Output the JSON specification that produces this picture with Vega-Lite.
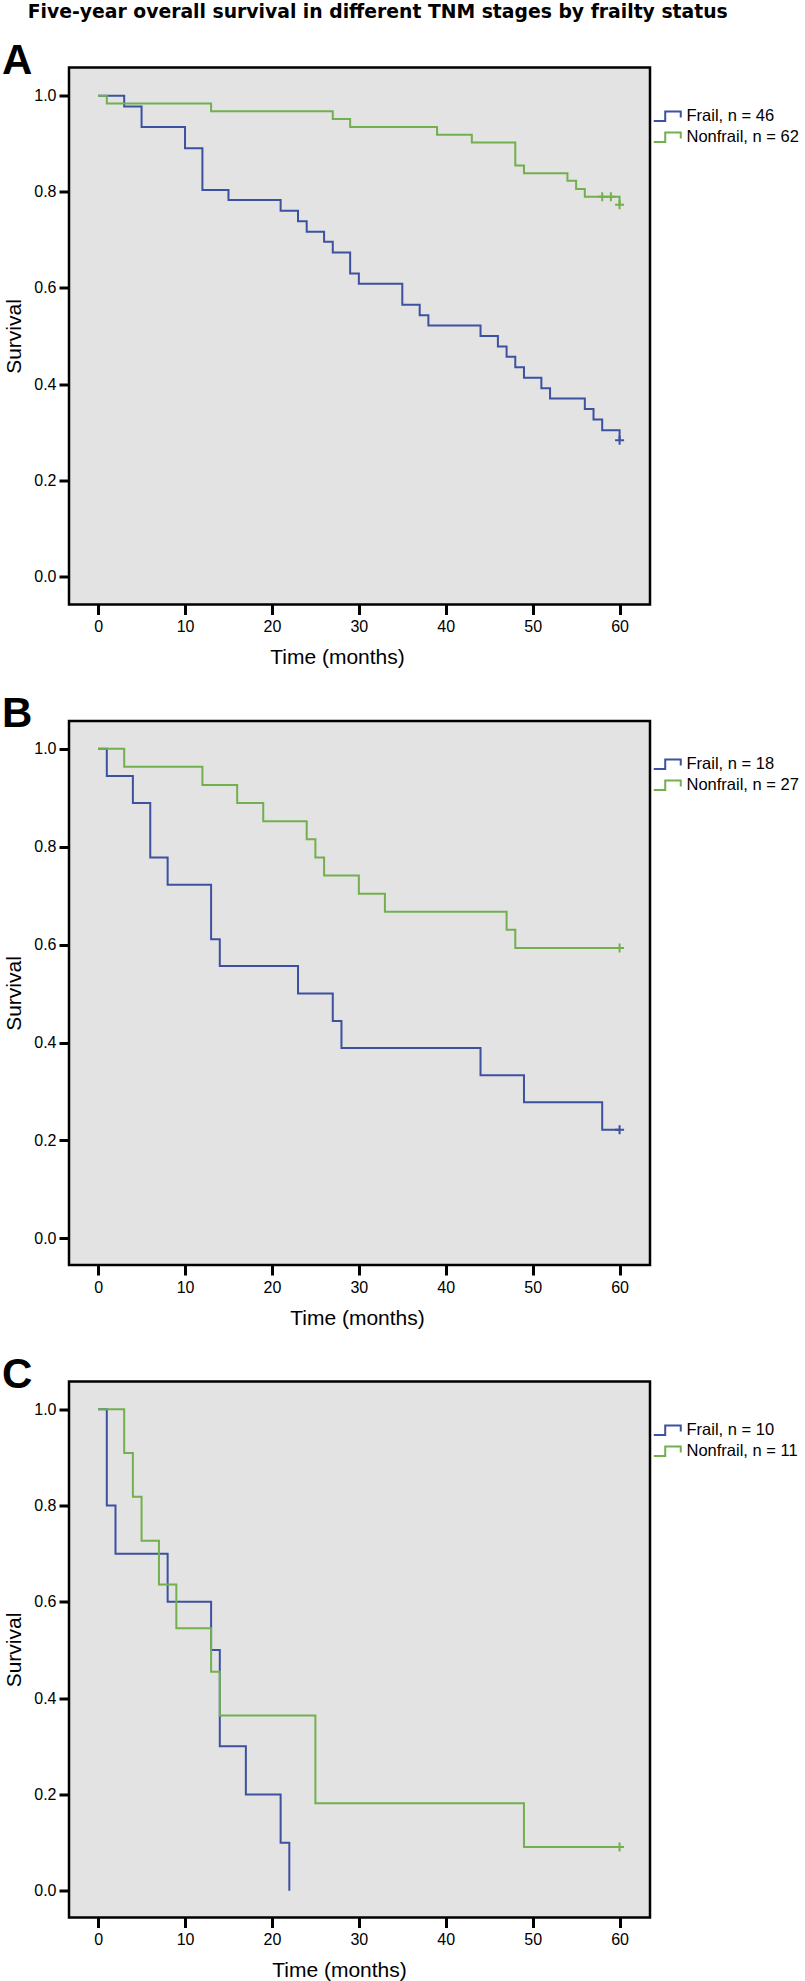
{
  "$schema": "https://vega.github.io/schema/vega-lite/v6.json",
  "autosize": {"type": "pad"},
  "padding": {"left": 0, "top": 2.5, "right": 0, "bottom": 0},
  "background": "white",
  "title": {
    "text": "Five-year overall survival in different TNM stages by frailty status",
    "anchor": "start",
    "frame": "bounds",
    "fontSize": 18.8,
    "fontWeight": "bold",
    "font": "DejaVu Sans",
    "color": "#000",
    "baseline": "alphabetic",
    "dx": 27,
    "dy": 18.5,
    "offset": 20
  },
  "datasets": {
    "km": [
      {"panel": "A", "group": "Frail, n = 46", "t": 0, "s": 1.0},
      {"panel": "A", "group": "Frail, n = 46", "t": 3, "s": 0.978},
      {"panel": "A", "group": "Frail, n = 46", "t": 5, "s": 0.935},
      {"panel": "A", "group": "Frail, n = 46", "t": 10, "s": 0.891},
      {"panel": "A", "group": "Frail, n = 46", "t": 12, "s": 0.804},
      {"panel": "A", "group": "Frail, n = 46", "t": 15, "s": 0.783},
      {"panel": "A", "group": "Frail, n = 46", "t": 21, "s": 0.761},
      {"panel": "A", "group": "Frail, n = 46", "t": 23, "s": 0.739},
      {"panel": "A", "group": "Frail, n = 46", "t": 24, "s": 0.717},
      {"panel": "A", "group": "Frail, n = 46", "t": 26, "s": 0.696},
      {"panel": "A", "group": "Frail, n = 46", "t": 27, "s": 0.674},
      {"panel": "A", "group": "Frail, n = 46", "t": 29, "s": 0.630},
      {"panel": "A", "group": "Frail, n = 46", "t": 30, "s": 0.609},
      {"panel": "A", "group": "Frail, n = 46", "t": 35, "s": 0.565},
      {"panel": "A", "group": "Frail, n = 46", "t": 37, "s": 0.543},
      {"panel": "A", "group": "Frail, n = 46", "t": 38, "s": 0.522},
      {"panel": "A", "group": "Frail, n = 46", "t": 44, "s": 0.500},
      {"panel": "A", "group": "Frail, n = 46", "t": 46, "s": 0.478},
      {"panel": "A", "group": "Frail, n = 46", "t": 47, "s": 0.457},
      {"panel": "A", "group": "Frail, n = 46", "t": 48, "s": 0.435},
      {"panel": "A", "group": "Frail, n = 46", "t": 49, "s": 0.413},
      {"panel": "A", "group": "Frail, n = 46", "t": 51, "s": 0.391},
      {"panel": "A", "group": "Frail, n = 46", "t": 52, "s": 0.370},
      {"panel": "A", "group": "Frail, n = 46", "t": 56, "s": 0.348},
      {"panel": "A", "group": "Frail, n = 46", "t": 57, "s": 0.326},
      {"panel": "A", "group": "Frail, n = 46", "t": 58, "s": 0.304},
      {"panel": "A", "group": "Frail, n = 46", "t": 60, "s": 0.283},
      {"panel": "A", "group": "Nonfrail, n = 62", "t": 0, "s": 1.0},
      {"panel": "A", "group": "Nonfrail, n = 62", "t": 1, "s": 0.984},
      {"panel": "A", "group": "Nonfrail, n = 62", "t": 13, "s": 0.968},
      {"panel": "A", "group": "Nonfrail, n = 62", "t": 27, "s": 0.952},
      {"panel": "A", "group": "Nonfrail, n = 62", "t": 29, "s": 0.935},
      {"panel": "A", "group": "Nonfrail, n = 62", "t": 39, "s": 0.919},
      {"panel": "A", "group": "Nonfrail, n = 62", "t": 43, "s": 0.903},
      {"panel": "A", "group": "Nonfrail, n = 62", "t": 48, "s": 0.855},
      {"panel": "A", "group": "Nonfrail, n = 62", "t": 49, "s": 0.839},
      {"panel": "A", "group": "Nonfrail, n = 62", "t": 54, "s": 0.823},
      {"panel": "A", "group": "Nonfrail, n = 62", "t": 55, "s": 0.806},
      {"panel": "A", "group": "Nonfrail, n = 62", "t": 56, "s": 0.790},
      {"panel": "A", "group": "Nonfrail, n = 62", "t": 60, "s": 0.773},
      {"panel": "B", "group": "Frail, n = 18", "t": 0, "s": 1.0},
      {"panel": "B", "group": "Frail, n = 18", "t": 1, "s": 0.944},
      {"panel": "B", "group": "Frail, n = 18", "t": 4, "s": 0.889},
      {"panel": "B", "group": "Frail, n = 18", "t": 6, "s": 0.778},
      {"panel": "B", "group": "Frail, n = 18", "t": 8, "s": 0.722},
      {"panel": "B", "group": "Frail, n = 18", "t": 13, "s": 0.611},
      {"panel": "B", "group": "Frail, n = 18", "t": 14, "s": 0.556},
      {"panel": "B", "group": "Frail, n = 18", "t": 23, "s": 0.500},
      {"panel": "B", "group": "Frail, n = 18", "t": 27, "s": 0.444},
      {"panel": "B", "group": "Frail, n = 18", "t": 28, "s": 0.389},
      {"panel": "B", "group": "Frail, n = 18", "t": 44, "s": 0.333},
      {"panel": "B", "group": "Frail, n = 18", "t": 49, "s": 0.278},
      {"panel": "B", "group": "Frail, n = 18", "t": 58, "s": 0.222},
      {"panel": "B", "group": "Frail, n = 18", "t": 60, "s": 0.222},
      {"panel": "B", "group": "Nonfrail, n = 27", "t": 0, "s": 1.0},
      {"panel": "B", "group": "Nonfrail, n = 27", "t": 3, "s": 0.963},
      {"panel": "B", "group": "Nonfrail, n = 27", "t": 12, "s": 0.926},
      {"panel": "B", "group": "Nonfrail, n = 27", "t": 16, "s": 0.889},
      {"panel": "B", "group": "Nonfrail, n = 27", "t": 19, "s": 0.852},
      {"panel": "B", "group": "Nonfrail, n = 27", "t": 24, "s": 0.815},
      {"panel": "B", "group": "Nonfrail, n = 27", "t": 25, "s": 0.778},
      {"panel": "B", "group": "Nonfrail, n = 27", "t": 26, "s": 0.741},
      {"panel": "B", "group": "Nonfrail, n = 27", "t": 30, "s": 0.704},
      {"panel": "B", "group": "Nonfrail, n = 27", "t": 33, "s": 0.667},
      {"panel": "B", "group": "Nonfrail, n = 27", "t": 47, "s": 0.630},
      {"panel": "B", "group": "Nonfrail, n = 27", "t": 48, "s": 0.593},
      {"panel": "B", "group": "Nonfrail, n = 27", "t": 60, "s": 0.593},
      {"panel": "C", "group": "Frail, n = 10", "t": 0, "s": 1.0},
      {"panel": "C", "group": "Frail, n = 10", "t": 1, "s": 0.8},
      {"panel": "C", "group": "Frail, n = 10", "t": 2, "s": 0.7},
      {"panel": "C", "group": "Frail, n = 10", "t": 8, "s": 0.6},
      {"panel": "C", "group": "Frail, n = 10", "t": 13, "s": 0.5},
      {"panel": "C", "group": "Frail, n = 10", "t": 14, "s": 0.3},
      {"panel": "C", "group": "Frail, n = 10", "t": 17, "s": 0.2},
      {"panel": "C", "group": "Frail, n = 10", "t": 21, "s": 0.1},
      {"panel": "C", "group": "Frail, n = 10", "t": 22, "s": 0.0},
      {"panel": "C", "group": "Nonfrail, n = 11", "t": 0, "s": 1.0},
      {"panel": "C", "group": "Nonfrail, n = 11", "t": 3, "s": 0.909},
      {"panel": "C", "group": "Nonfrail, n = 11", "t": 4, "s": 0.818},
      {"panel": "C", "group": "Nonfrail, n = 11", "t": 5, "s": 0.727},
      {"panel": "C", "group": "Nonfrail, n = 11", "t": 7, "s": 0.636},
      {"panel": "C", "group": "Nonfrail, n = 11", "t": 9, "s": 0.545},
      {"panel": "C", "group": "Nonfrail, n = 11", "t": 13, "s": 0.455},
      {"panel": "C", "group": "Nonfrail, n = 11", "t": 14, "s": 0.364},
      {"panel": "C", "group": "Nonfrail, n = 11", "t": 25, "s": 0.182},
      {"panel": "C", "group": "Nonfrail, n = 11", "t": 49, "s": 0.091},
      {"panel": "C", "group": "Nonfrail, n = 11", "t": 60, "s": 0.091}
    ],
    "censored": [
      {"panel": "A", "group": "Frail, n = 46", "t": 60, "s": 0.283},
      {"panel": "A", "group": "Nonfrail, n = 62", "t": 58, "s": 0.790},
      {"panel": "A", "group": "Nonfrail, n = 62", "t": 59, "s": 0.790},
      {"panel": "A", "group": "Nonfrail, n = 62", "t": 60, "s": 0.773},
      {"panel": "B", "group": "Frail, n = 18", "t": 60, "s": 0.222},
      {"panel": "B", "group": "Nonfrail, n = 27", "t": 60, "s": 0.593},
      {"panel": "C", "group": "Nonfrail, n = 11", "t": 60, "s": 0.091}
    ]
  },
  "spacing": 116.5,
  "bounds": "flush",
  "resolve": {
    "scale": {"x": "independent", "y": "independent", "color": "independent"},
    "legend": {"color": "independent"}
  },
  "vconcat": [
    {
      "title": {"text": "A"},
      "width": 581,
      "height": 537,
      "layer": [
        {
          "data": {"name": "km"},
          "transform": [{"filter": "datum.panel == 'A'"}],
          "mark": {"type": "line", "interpolate": "step-after", "strokeWidth": 2},
          "encoding": {
            "x": {"field": "t", "type": "quantitative", "scale": {"domain": [-3.35, 63.5], "nice": false, "zero": false}, "axis": {"title": "Time (months)", "values": [0, 10, 20, 30, 40, 50, 60], "titleX": 268}},
            "y": {"field": "s", "type": "quantitative", "scale": {"domain": [-0.059, 1.059], "nice": false, "zero": false}, "axis": {"title": "Survival", "values": [0, 0.2, 0.4, 0.6, 0.8, 1.0], "format": ".1f"}},
            "color": {"field": "group", "type": "nominal", "scale": {"domain": ["Frail, n = 46", "Nonfrail, n = 62"], "range": ["#3c51a0", "#72b04e"]}, "legend": {"title": null, "legendY": 40.5}}
          }
        },
        {
          "data": {"name": "censored"},
          "transform": [{"filter": "datum.panel == 'A'"}],
          "mark": {"type": "point", "shape": "M-1,0H1M0,-1V1", "size": 81, "strokeWidth": 2, "filled": false, "opacity": 1},
          "encoding": {
            "x": {"field": "t", "type": "quantitative"},
            "y": {"field": "s", "type": "quantitative"},
            "color": {"field": "group", "type": "nominal", "legend": null}
          }
        }
      ]
    },
    {
      "title": {"text": "B"},
      "width": 581,
      "height": 544,
      "layer": [
        {
          "data": {"name": "km"},
          "transform": [{"filter": "datum.panel == 'B'"}],
          "mark": {"type": "line", "interpolate": "step-after", "strokeWidth": 2},
          "encoding": {
            "x": {"field": "t", "type": "quantitative", "scale": {"domain": [-3.35, 63.5], "nice": false, "zero": false}, "axis": {"title": "Time (months)", "values": [0, 10, 20, 30, 40, 50, 60], "titleX": 288}},
            "y": {"field": "s", "type": "quantitative", "scale": {"domain": [-0.0543, 1.0565], "nice": false, "zero": false}, "axis": {"title": "Survival", "values": [0, 0.2, 0.4, 0.6, 0.8, 1.0], "format": ".1f"}},
            "color": {"field": "group", "type": "nominal", "scale": {"domain": ["Frail, n = 18", "Nonfrail, n = 27"], "range": ["#3c51a0", "#72b04e"]}, "legend": {"title": null, "legendY": 35}}
          }
        },
        {
          "data": {"name": "censored"},
          "transform": [{"filter": "datum.panel == 'B'"}],
          "mark": {"type": "point", "shape": "M-1,0H1M0,-1V1", "size": 81, "strokeWidth": 2, "filled": false, "opacity": 1},
          "encoding": {
            "x": {"field": "t", "type": "quantitative"},
            "y": {"field": "s", "type": "quantitative"},
            "color": {"field": "group", "type": "nominal", "legend": null}
          }
        }
      ]
    },
    {
      "title": {"text": "C"},
      "width": 581,
      "height": 536,
      "layer": [
        {
          "data": {"name": "km"},
          "transform": [{"filter": "datum.panel == 'C'"}],
          "mark": {"type": "line", "interpolate": "step-after", "strokeWidth": 2},
          "encoding": {
            "x": {"field": "t", "type": "quantitative", "scale": {"domain": [-3.35, 63.5], "nice": false, "zero": false}, "axis": {"title": "Time (months)", "values": [0, 10, 20, 30, 40, 50, 60], "titleX": 270}},
            "y": {"field": "s", "type": "quantitative", "scale": {"domain": [-0.0554, 1.0575], "nice": false, "zero": false}, "axis": {"title": "Survival", "values": [0, 0.2, 0.4, 0.6, 0.8, 1.0], "format": ".1f"}},
            "color": {"field": "group", "type": "nominal", "scale": {"domain": ["Frail, n = 10", "Nonfrail, n = 11"], "range": ["#3c51a0", "#72b04e"]}, "legend": {"title": null, "legendY": 40.5}}
          }
        },
        {
          "data": {"name": "censored"},
          "transform": [{"filter": "datum.panel == 'C'"}],
          "mark": {"type": "point", "shape": "M-1,0H1M0,-1V1", "size": 81, "strokeWidth": 2, "filled": false, "opacity": 1},
          "encoding": {
            "x": {"field": "t", "type": "quantitative"},
            "y": {"field": "s", "type": "quantitative"},
            "color": {"field": "group", "type": "nominal", "legend": null}
          }
        }
      ]
    }
  ],
  "config": {
    "font": "Liberation Sans",
    "view": {"fill": "#e3e3e3", "stroke": "#000000", "strokeWidth": 2.5},
    "title": {
      "anchor": "start",
      "frame": "group",
      "fontSize": 42,
      "fontWeight": "bold",
      "font": "Liberation Sans",
      "color": "#000",
      "baseline": "alphabetic",
      "offset": 0,
      "dx": -67,
      "dy": 19
    },
    "axis": {
      "domain": false,
      "grid": false,
      "tickColor": "#000",
      "tickWidth": 3,
      "tickSize": 10,
      "labelColor": "#000",
      "labelFont": "Liberation Sans",
      "labelFontSize": 16,
      "titleFont": "Liberation Sans",
      "titleFontSize": 21,
      "titleFontWeight": "normal",
      "titleColor": "#000"
    },
    "axisX": {"labelPadding": 4, "titleY": 53, "titleBaseline": "middle"},
    "axisY": {"labelPadding": 3, "titleX": -55, "titleBaseline": "middle"},
    "legend": {
      "orient": "none",
      "legendX": 590,
      "legendY": 40.5,
      "symbolType": "M-2,0.7H-0.3V-0.7H2V0.2",
      "symbolSize": 182,
      "symbolStrokeWidth": 2,
      "symbolFillColor": "transparent",
      "labelFont": "Liberation Sans",
      "labelFontSize": 16.5,
      "labelColor": "#000",
      "labelOffset": 11,
      "rowPadding": 3,
      "padding": 0
    }
  }
}
